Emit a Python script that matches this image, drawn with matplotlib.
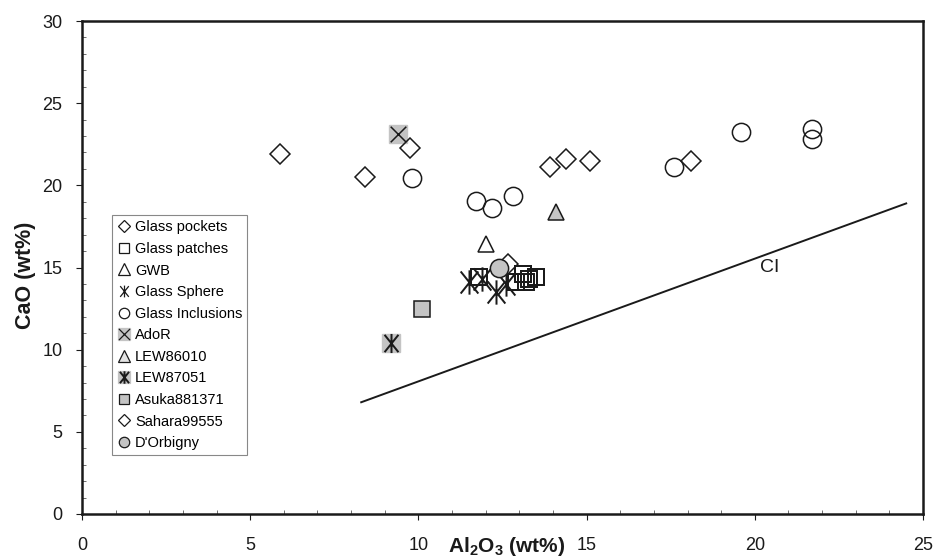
import matplotlib
matplotlib.use("Agg")
import matplotlib.pyplot as plt
from matplotlib.path import Path
from matplotlib.legend_handler import HandlerTuple
from matplotlib.lines import Line2D
from matplotlib.transforms import offset_copy
import numpy as np

plt.rcParams['font.family'] = ['Liberation Sans', 'DejaVu Sans']
plt.rcParams['mathtext.fontset'] = 'custom'
plt.rcParams['mathtext.rm'] = 'Liberation Sans'
plt.rcParams['mathtext.bf'] = 'Liberation Sans:bold'

# ---- data (Al2O3 wt%, CaO wt%) ----
pockets_x = [5.9, 8.4, 9.75, 13.9, 14.4, 15.1, 18.1]
pockets_y = [21.9, 20.5, 22.3, 21.1, 21.6, 21.5, 21.5]

patches_x = [11.8, 12.9, 13.2, 13.3, 13.5, 13.1]
patches_y = [14.4, 14.1, 14.1, 14.3, 14.4, 14.6]

gwb_x = [12.0]
gwb_y = [16.4]

sphere_x = [11.5, 11.9, 12.3, 12.6]
sphere_y = [14.1, 14.3, 13.5, 14.0]

incl_x = [9.8, 11.7, 12.2, 12.8, 17.6, 19.6, 21.7, 21.7]
incl_y = [20.45, 19.05, 18.6, 19.35, 21.1, 23.25, 23.4, 22.8]

ador_x, ador_y = [9.4], [23.1]
lew86010_x, lew86010_y = [14.1], [18.4]
lew87051_x, lew87051_y = [9.2], [10.4]
asuka_x, asuka_y = [10.1], [12.5]
sahara_x, sahara_y = [12.65], [15.2]
dorb_x, dorb_y = [12.4], [15.0]

ci_x = [8.3, 24.5]
ci_y = [6.8, 18.9]
ci_label = "CI"

legend_labels = ["Glass pockets", "Glass patches", "GWB", "Glass Sphere",
                 "Glass Inclusions", "AdoR", "LEW86010", "LEW87051",
                 "Asuka881371", "Sahara99555", "D'Orbigny"]

# ---- style ----
GRAY = '#c4c4c4'
K = '#1a1a1a'
star_path = Path([(-0.8, -1), (0.8, 1), (-0.8, 1), (0.8, -1), (0, -1.1), (0, 1.1)],
                 [Path.MOVETO, Path.LINETO, Path.MOVETO, Path.LINETO, Path.MOVETO, Path.LINETO])
x_path = Path([(-1, -1), (1, 1), (-1, 1), (1, -1)],
              [Path.MOVETO, Path.LINETO, Path.MOVETO, Path.LINETO])

fig = plt.figure(figsize=(9.36, 5.6), dpi=100)
ax = fig.add_axes([82 / 936, 46 / 560, 841 / 936, 493 / 560])

ms = 12.5
lw = 1.1

ax.plot(ci_x, ci_y, color=K, lw=1.4, zorder=1)
ax.text(20.45, 15.0, ci_label, fontsize=14, ha='center', va='center', color=K)

ax.plot(ador_x, ador_y, 's', ms=ms, mfc=GRAY, mec=GRAY, ls='none', zorder=2)
ax.plot(ador_x, ador_y, marker=x_path, ms=ms * 0.9, mec=K, mfc='none', mew=lw, ls='none', zorder=3)

ax.plot(lew87051_x, lew87051_y, 's', ms=ms, mfc=GRAY, mec=GRAY, ls='none', zorder=2)
ax.plot(lew87051_x, lew87051_y, marker=star_path, ms=ms * 1.1, mec=K, mfc='none', mew=lw * 1.3, ls='none', zorder=3)

ax.plot(asuka_x, asuka_y, 's', ms=ms * 0.95, mfc=GRAY, mec=K, mew=lw, ls='none', zorder=3)
ax.plot(lew86010_x, lew86010_y, '^', ms=ms * 0.95, mfc=GRAY, mec=K, mew=lw, ls='none', zorder=3)

ax.plot(pockets_x, pockets_y, 'D', ms=ms * 0.8, mfc='none', mec=K, mew=lw, ls='none', zorder=4)
ax.plot(incl_x, incl_y, 'o', ms=ms * 1.05, mfc='none', mec=K, mew=lw, ls='none', zorder=4)
ax.plot(gwb_x, gwb_y, '^', ms=ms * 0.95, mfc='none', mec=K, mew=lw, ls='none', zorder=4)
ax.plot(patches_x, patches_y, 's', ms=ms * 0.95, mfc='none', mec=K, mew=lw * 1.3, ls='none', zorder=4)
ax.plot(sphere_x, sphere_y, marker=star_path, ms=ms * 1.4, mfc='none', mec=K, mew=lw * 1.3, ls='none', zorder=4)
ax.plot(sahara_x, sahara_y, 'D', ms=ms * 0.85, mfc='none', mec=K, mew=lw, ls='none', zorder=4)
ax.plot(dorb_x, dorb_y, 'o', ms=ms * 1.05, mfc=GRAY, mec=K, mew=lw, ls='none', zorder=5)

# ---- axes ----
ax.set_xlim(0, 25)
ax.set_ylim(0, 30)
ax.set_xticks(np.arange(0, 26, 5))
ax.set_yticks(np.arange(0, 31, 5))
ax.set_xticks(np.arange(0, 26, 1), minor=True)
ax.set_yticks(np.arange(0, 31, 1), minor=True)
ax.tick_params(axis='both', which='major', direction='out', length=4, width=0.8,
               labelsize=13, colors=K)
ax.tick_params(axis='x', which='major', pad=12.5)
ax.tick_params(axis='y', which='major', pad=10)
ax.tick_params(axis='both', which='minor', direction='in', length=3, width=0.6, colors='#555555')
for s in ax.spines.values():
    s.set_linewidth(1.8)
    s.set_color(K)

ax.set_ylabel('CaO (wt%)', fontsize=15.5, fontweight='bold', color=K)
ax.yaxis.set_label_coords(-46 / 841, 0.485)
lab_tr = offset_copy(ax.transAxes, fig=fig, x=0, y=-33, units='dots')
ax.text(0.505, 0.0, r'Al$_\mathbf{2}$O$_\mathbf{3}$ (wt%)', transform=lab_tr,
        fontsize=15, fontweight='bold', ha='center', va='center', color=K)

# ---- legend ----
def mk(marker, mfc='none', mec=K, ms_=7.5, mew=0.9):
    return Line2D([], [], marker=marker, ls='none', mfc=mfc, mec=mec, ms=ms_, mew=mew)

handles = [
    mk('D', ms_=6.5),
    mk('s', ms_=7.5),
    mk('^', ms_=8),
    mk(star_path, ms_=8.5),
    mk('o', ms_=7.5),
    (mk('s', mfc=GRAY, mec=GRAY, ms_=9), mk(x_path, ms_=8)),
    mk('^', mfc='#e4e4e4', ms_=8),
    (mk('s', mfc=GRAY, mec=GRAY, ms_=9), mk(star_path, ms_=9, mew=1.4)),
    mk('s', mfc=GRAY, ms_=7.5),
    mk('D', ms_=6.5),
    mk('o', mfc=GRAY, ms_=7.5),
]
leg = ax.legend(handles, legend_labels, loc='upper left', bbox_to_anchor=(0.036, 0.606),
                fontsize=10.5, frameon=True, fancybox=False, edgecolor='#888888',
                framealpha=1, borderpad=0.35, labelspacing=0.52, handlelength=0.9,
                handletextpad=0.3, borderaxespad=0,
                handler_map={tuple: HandlerTuple(ndivide=1)})
leg.get_frame().set_linewidth(0.8)

fig.savefig('out.png', dpi=100)
